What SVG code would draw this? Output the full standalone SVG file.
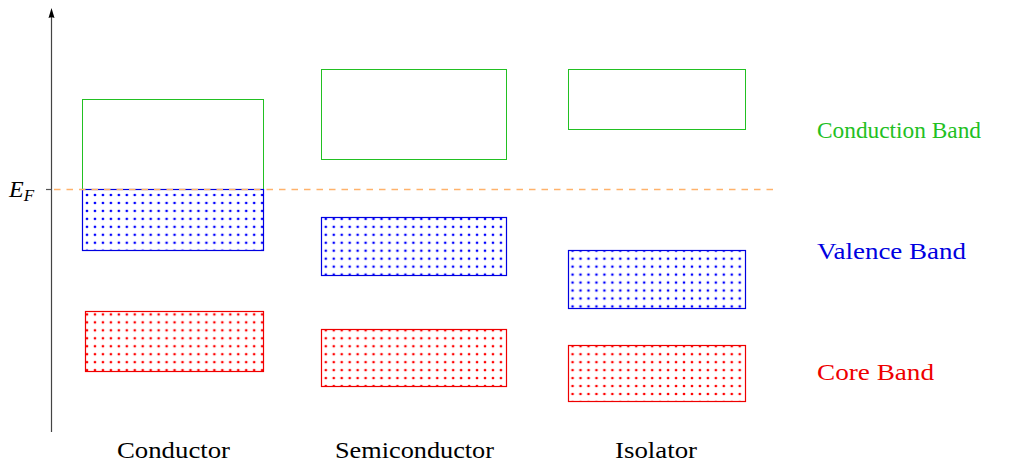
<svg xmlns="http://www.w3.org/2000/svg" width="1011" height="461" viewBox="0 0 1011 461">
<style>
text{font-family:"Liberation Serif","DejaVu Serif",serif;font-size:24px}
.cb{fill:none;stroke:#22c022;stroke-width:1}
.vb{fill:url(#dotsB);stroke:#0000e0;stroke-width:1.2}
.rb{fill:url(#dotsR);stroke:#ee0000;stroke-width:1.2}
</style>
<defs>
<pattern id="dotsB" patternUnits="userSpaceOnUse" x="83.02" y="191.02" width="7.96" height="7.96">
<circle cx="3.98" cy="3.98" r="1.35" fill="#0000ff"/>
</pattern>
<pattern id="dotsR" patternUnits="userSpaceOnUse" x="83.02" y="191.02" width="7.96" height="7.96">
<circle cx="3.98" cy="3.98" r="1.35" fill="#ff0000"/>
</pattern>
</defs>
<g id="connectors">
<line x1="51.5" y1="432" x2="51.5" y2="16" stroke="#444" stroke-width="1.2"/>
<path d="M51.5,8 L54.5,18 Q51.5,16.5 48.5,18 Z" fill="#000"/>
<line x1="46" y1="189.5" x2="51.5" y2="189.5" stroke="#555" stroke-width="1.2"/>
</g>
<g id="conductor">
<rect class="cb" x="82.5" y="99.5" width="181" height="90"/>
<rect class="vb" x="82.5" y="189.5" width="181" height="61"/>
<rect class="rb" x="85.5" y="311.5" width="178" height="60"/>
<text x="117" y="458" textLength="113" lengthAdjust="spacingAndGlyphs">Conductor</text>
</g>
<g id="semiconductor">
<rect class="cb" x="321.5" y="69.5" width="185" height="90"/>
<rect class="vb" x="321.5" y="217.5" width="185" height="58"/>
<rect class="rb" x="321.5" y="329.5" width="185" height="57"/>
<text x="335" y="458" textLength="159" lengthAdjust="spacingAndGlyphs">Semiconductor</text>
</g>
<g id="isolator">
<rect class="cb" x="568.5" y="69.5" width="177" height="60"/>
<rect class="vb" x="568.5" y="250.5" width="177" height="58"/>
<rect class="rb" x="568.5" y="345.5" width="177" height="56"/>
<text x="615" y="458" textLength="82" lengthAdjust="spacingAndGlyphs">Isolator</text>
</g>
<g id="fermi">
<line x1="52" y1="189.5" x2="775" y2="189.5" stroke="#ffb26b" stroke-width="1.5" stroke-dasharray="6.5,6" stroke-dashoffset="-2"/>
<text x="9" y="197" font-style="italic" font-size="26">E<tspan font-size="17" dy="4">F</tspan></text>
</g>
<g id="legend">
<text x="817" y="138" fill="#22c022" textLength="164" lengthAdjust="spacingAndGlyphs">Conduction Band</text>
<text x="817" y="259" fill="#0000e0" textLength="149" lengthAdjust="spacingAndGlyphs">Valence Band</text>
<text x="817" y="380" fill="#ee0000" textLength="117" lengthAdjust="spacingAndGlyphs">Core Band</text>
</g>
</svg>
